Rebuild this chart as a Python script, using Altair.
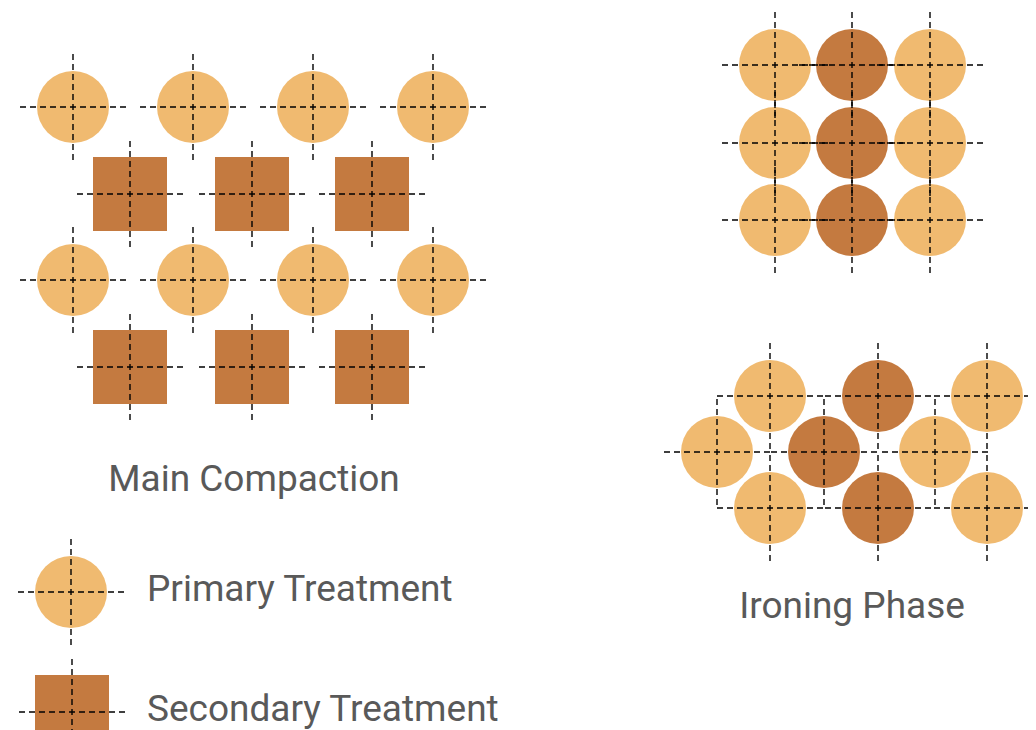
import altair as alt
import pandas as pd

LIGHT = "#F0BA70"
DARK = "#C47A40"

# Element centres (diagram units = pixels of the reference layout)
# Main Compaction: circles on two rows, squares offset between them
mc_circle_x = [73, 193, 313, 433]
mc_circle_y = [107, 280]
mc_square_x = [130, 252, 372]
mc_square_y = [194, 367]

# Ironing Phase (top): 3x3 square packing, middle column is secondary
ip1_x = [775, 852, 930]
ip1_y = [65, 143, 220]
ip1_kind = ["Primary", "Secondary", "Primary"]

# Ironing Phase (bottom): staggered packing
ip2_outer_x = [770, 878, 987]
ip2_outer_y = [396, 508]
ip2_mid_x = [717, 824, 935]
ip2_mid_y = [452]
ip2_kind = ["Primary", "Secondary", "Primary"]

# Legend
legend_labels = ["Primary Treatment", "Secondary Treatment"]
legend_shape_x = [71, 72]
legend_shape_y = [592, 712]
legend_text_x = [147, 147]
legend_text_y = [601, 721]

titles = ["Main Compaction", "Ironing Phase"]
title_x = [254, 852]
title_y = [491, 618]

HALF = 53  # crosshair half-length

circles = []
squares = []
for y in mc_circle_y:
    for x in mc_circle_x:
        circles.append({"x": x, "y": y, "kind": "Primary"})
for y in mc_square_y:
    for x in mc_square_x:
        squares.append({"x": x, "y": y, "kind": "Secondary"})
for y in ip1_y:
    for x, k in zip(ip1_x, ip1_kind):
        circles.append({"x": x, "y": y, "kind": k})
for y in ip2_outer_y:
    for x, k in zip(ip2_outer_x, ip2_kind):
        circles.append({"x": x, "y": y, "kind": k})
for y in ip2_mid_y:
    for x, k in zip(ip2_mid_x, ip2_kind):
        circles.append({"x": x, "y": y, "kind": k})
circles.append({"x": legend_shape_x[0], "y": legend_shape_y[0], "kind": "Primary"})
squares.append({"x": legend_shape_x[1], "y": legend_shape_y[1], "kind": "Secondary"})

circ_df = pd.DataFrame(circles)
sq_df = pd.DataFrame(squares)
all_df = pd.concat([circ_df, sq_df], ignore_index=True)

segs = []
for _, r in all_df.iterrows():
    segs.append({"x": r["x"] - HALF, "x2": r["x"] + HALF, "y": r["y"], "y2": r["y"]})
    segs.append({"x": r["x"], "x2": r["x"], "y": r["y"] - HALF, "y2": r["y"] + HALF})
seg_df = pd.DataFrame(segs)

center_df = pd.DataFrame({"label": titles, "x": title_x, "y": title_y})
left_df = pd.DataFrame({"label": legend_labels, "x": legend_text_x, "y": legend_text_y})

xs = alt.Scale(domain=[8, 1028], nice=False, zero=False)
ys = alt.Scale(domain=[8, 722], nice=False, zero=False, reverse=True)
color = alt.Color("kind:N", scale=alt.Scale(domain=["Primary", "Secondary"], range=[LIGHT, DARK]), legend=None)

X = alt.X("x:Q", scale=xs, axis=None)
Y = alt.Y("y:Q", scale=ys, axis=None)

circ = alt.Chart(circ_df).mark_point(shape="circle", filled=True, opacity=1, size=5184, strokeWidth=0).encode(x=X, y=Y, color=color)
sq = alt.Chart(sq_df).mark_point(shape="square", filled=True, opacity=1, size=5476, strokeWidth=0).encode(x=X, y=Y, color=color)
rules = alt.Chart(seg_df).mark_rule(color="black", strokeWidth=1.4, strokeDash=[6, 4]).encode(
    x=X, x2="x2:Q", y=Y, y2="y2:Q")

txt_c = alt.Chart(center_df).mark_text(
    font="Roboto", fontSize=37, color="#595959", align="center", baseline="alphabetic"
).encode(x=X, y=Y, text="label:N")
txt_l = alt.Chart(left_df).mark_text(
    font="Roboto", fontSize=37, color="#595959", align="left", baseline="alphabetic"
).encode(x=X, y=Y, text="label:N")

chart = alt.layer(circ, sq, rules, txt_c, txt_l).properties(
    width=1020, height=714,
    padding={"left": 0, "top": 0, "right": 0, "bottom": 8},
    autosize=alt.AutoSizeParams(type="none"),
    background="white",
).configure_view(strokeWidth=0, stroke="transparent")

chart.save("out.html", embed_options={"renderer": "svg", "actions": False})
